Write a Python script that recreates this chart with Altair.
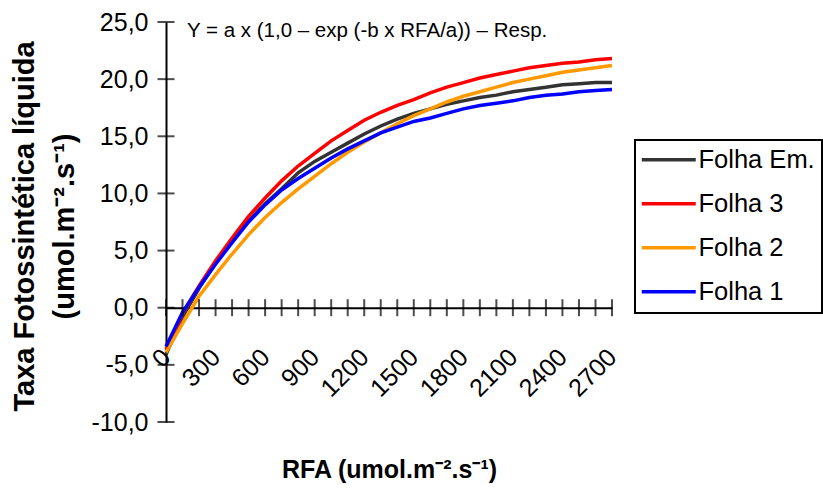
import altair as alt
import pandas as pd

# ---- data ----
rfa = list(range(0, 2800, 100))
folha_em = [-4.1, -0.8, 1.7, 3.9, 5.9, 7.6, 9.1, 10.4, 11.8, 12.8, 13.6, 14.4, 15.2, 15.9,
            16.5, 17.0, 17.4, 17.8, 18.1, 18.4, 18.6, 18.9, 19.1, 19.3, 19.5, 19.6, 19.7, 19.7]
folha_3 = [-3.7, -0.5, 1.9, 4.1, 6.1, 8.0, 9.6, 11.1, 12.4, 13.5, 14.6, 15.5, 16.4, 17.1,
           17.7, 18.2, 18.8, 19.3, 19.7, 20.1, 20.4, 20.7, 21.0, 21.2, 21.4, 21.5, 21.7, 21.8]
folha_2 = [-3.9, -1.4, 1.0, 2.9, 4.7, 6.4, 7.9, 9.2, 10.4, 11.5, 12.6, 13.6, 14.5, 15.3,
           16.1, 16.8, 17.4, 18.0, 18.5, 18.9, 19.3, 19.7, 20.0, 20.3, 20.6, 20.8, 21.0, 21.2]
folha_1 = [-3.4, -0.4, 1.8, 3.8, 5.7, 7.5, 9.0, 10.3, 11.3, 12.2, 13.1, 13.9, 14.6, 15.3,
           15.8, 16.3, 16.6, 17.0, 17.4, 17.7, 17.9, 18.1, 18.4, 18.6, 18.7, 18.9, 19.0, 19.1]

series_names = ["Folha Em.", "Folha 3", "Folha 2", "Folha 1"]
series_colors = ["#333333", "#FF0000", "#FF9900", "#0000FF"]
series_values = [folha_em, folha_3, folha_2, folha_1]

y_ticks = [-10, -5, 0, 5, 10, 15, 20, 25]
x_label_values = list(range(0, 2800, 300))
x_tick_values = list(range(0, 2800, 100))

equation = "Y = a x (1,0 \u2013 exp (-b x RFA/a)) \u2013 Resp."
y_title = ["Taxa Fotossintética líquida", "(umol.m\u207b\u00b2.s\u207b\u00b9)"]
x_title = "RFA (umol.m\u207b\u00b2.s\u207b\u00b9)"

FONT = "Liberation Sans"

rows = []
for name, vals in zip(series_names, series_values):
    for xv, yv in zip(rfa, vals):
        rows.append({"rfa": xv, "taxa": yv, "serie": name})
df = pd.DataFrame(rows)

W, H = 446, 400
y_dom = [-10, 25]
x_dom = [0, 2700]
x_offset = -H * (0 - y_dom[0]) / (y_dom[1] - y_dom[0])

xscale = alt.Scale(domain=x_dom, nice=False, zero=False)
yscale = alt.Scale(domain=y_dom, nice=False, zero=False)

x_axis = alt.Axis(
    values=x_label_values, format="d", offset=x_offset, ticks=False,
    domainColor="black", domainWidth=2, labelAngle=315, labelAlign="right",
    labelBaseline="middle", labelPadding=45, labelFontSize=25, labelFont=FONT,
    labelColor="black", labelOverlap=False, labelFlush=False, grid=False,
    title=x_title, titleFont=FONT, titleFontSize=25, titleFontWeight="bold",
    titleColor="black", titleY=170, titleBaseline="alphabetic")
y_axis = alt.Axis(
    values=y_ticks, ticks=False, domainColor="black", domainWidth=2,
    labelExpr="replace(replace(format(datum.value, '.1f'), '.', ','), '\u2212', '-')",
    labelPadding=18, labelFontSize=25, labelFont=FONT, labelColor="black",
    labelOverlap=False, labelFlush=False, grid=False,
    title=y_title, titleFont=FONT, titleFontSize=29, titleFontWeight="bold",
    titleColor="black", titleAngle=270, titleX=-142, titleY=204,
    titleAlign="center", titleBaseline="middle", titleLineHeight=40)

color = alt.Color(
    "serie:N",
    scale=alt.Scale(domain=series_names, range=series_colors),
    legend=alt.Legend(
        title=None, orient="none", legendX=469, legendY=118, direction="vertical",
        symbolType="M-2.7,0H2.7", symbolSize=400, symbolStrokeWidth=3.5,
        symbolOffset=14, labelFontSize=25.5, labelFont=FONT, labelColor="black",
        labelOffset=17, padding=7, strokeColor="black", rowPadding=17,
    ),
)

layers = []
for name in series_names:
    layers.append(
        alt.Chart(df).transform_filter(alt.datum.serie == name)
        .mark_line(strokeWidth=3.5, clip=False)
        .encode(x=alt.X("rfa:Q", scale=xscale, axis=x_axis),
                y=alt.Y("taxa:Q", scale=yscale, axis=y_axis),
                color=color)
    )

xt = pd.DataFrame({"rfa": x_tick_values, "taxa": [0] * len(x_tick_values)})
yt = pd.DataFrame({"taxa": y_ticks, "rfa": [0] * len(y_ticks)})

x_ticks = alt.Chart(xt).mark_tick(orient="vertical", size=17, thickness=2, color="black").encode(
    x=alt.X("rfa:Q", scale=xscale, axis=x_axis), y=alt.Y("taxa:Q", scale=yscale, axis=y_axis))
y_ticks_layer = alt.Chart(yt).mark_tick(orient="horizontal", size=17, thickness=2, color="black").encode(
    x=alt.X("rfa:Q", scale=xscale, axis=x_axis), y=alt.Y("taxa:Q", scale=yscale, axis=y_axis))

eq = alt.Chart(pd.DataFrame({"t": [equation]})).mark_text(
    align="left", baseline="alphabetic", fontSize=20.5, font=FONT, color="black"
).encode(x=alt.value(21), y=alt.value(15), text="t:N")

chart = alt.layer(*layers, x_ticks, y_ticks_layer, eq).properties(
    width=W, height=H,
    padding={"left": 166, "top": 22, "right": 211, "bottom": 70},
    autosize=alt.AutoSizeParams(type="none"),
).configure_view(stroke=None).configure_legend(strokeWidth=2)

chart.save("out.html", embed_options={"renderer": "svg", "actions": False})
